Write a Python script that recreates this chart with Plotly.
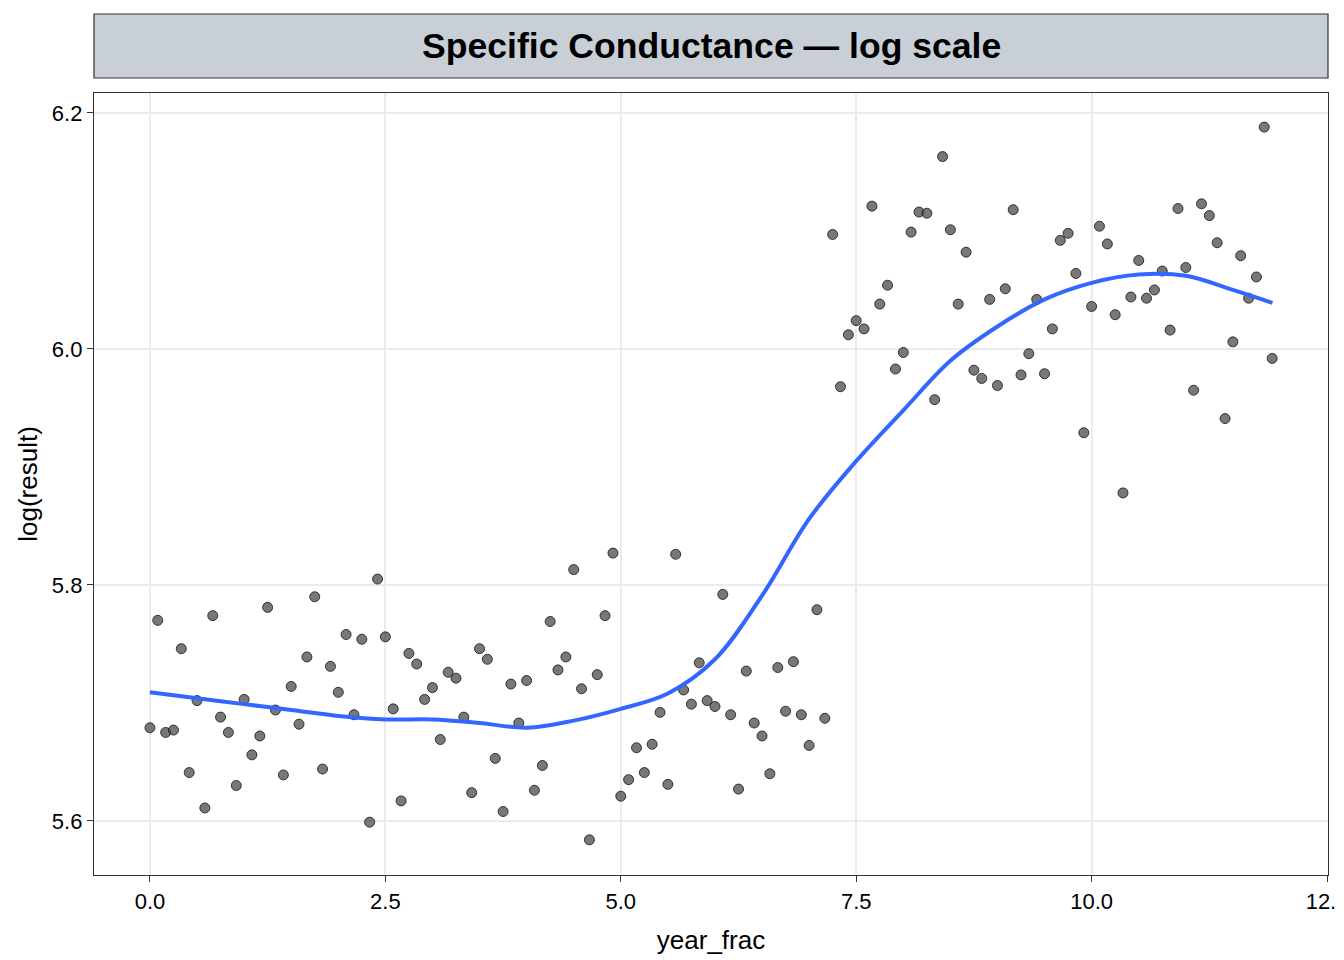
import plotly.graph_objects as go

# monthly samples, in fractional years since start
year_frac = [
    0.000, 0.083, 0.167, 0.250, 0.333, 0.417, 0.500, 0.583, 0.667, 0.750, 0.833, 0.917,
    1.000, 1.083, 1.167, 1.250, 1.333, 1.417, 1.500, 1.583, 1.667, 1.750, 1.833, 1.917,
    2.000, 2.083, 2.167, 2.250, 2.333, 2.417, 2.500, 2.583, 2.667, 2.750, 2.833, 2.917,
    3.000, 3.083, 3.167, 3.250, 3.333, 3.417, 3.500, 3.583, 3.667, 3.750, 3.833, 3.917,
    4.000, 4.083, 4.167, 4.250, 4.333, 4.417, 4.500, 4.583, 4.667, 4.750, 4.833, 4.917,
    5.000, 5.083, 5.167, 5.250, 5.333, 5.417, 5.500, 5.583, 5.667, 5.750, 5.833, 5.917,
    6.000, 6.083, 6.167, 6.250, 6.333, 6.417, 6.500, 6.583, 6.667, 6.750, 6.833, 6.917,
    7.000, 7.083, 7.167, 7.250, 7.333, 7.417, 7.500, 7.583, 7.667, 7.750, 7.833, 7.917,
    8.000, 8.083, 8.167, 8.250, 8.333, 8.417, 8.500, 8.583, 8.667, 8.750, 8.833, 8.917,
    9.000, 9.083, 9.167, 9.250, 9.333, 9.417, 9.500, 9.583, 9.667, 9.750, 9.833, 9.917,
    10.000, 10.083, 10.167, 10.250, 10.333, 10.417, 10.500, 10.583, 10.667, 10.750, 10.833, 10.917,
    11.000, 11.083, 11.167, 11.250, 11.333, 11.417, 11.500, 11.583, 11.667, 11.750, 11.833, 11.917,
]

log_result = [
    5.679, 5.770, 5.675, 5.677, 5.746, 5.641, 5.702, 5.611, 5.774, 5.688, 5.675, 5.630,
    5.703, 5.656, 5.672, 5.781, 5.694, 5.639, 5.714, 5.682, 5.739, 5.790, 5.644, 5.731,
    5.709, 5.758, 5.690, 5.754, 5.599, 5.805, 5.756, 5.695, 5.617, 5.742, 5.733, 5.703,
    5.713, 5.669, 5.726, 5.721, 5.688, 5.624, 5.746, 5.737, 5.653, 5.608, 5.716, 5.683,
    5.719, 5.626, 5.647, 5.769, 5.728, 5.739, 5.813, 5.712, 5.584, 5.724, 5.774, 5.827,
    5.621, 5.635, 5.662, 5.641, 5.665, 5.692, 5.631, 5.826, 5.711, 5.699, 5.734, 5.702,
    5.697, 5.792, 5.690, 5.627, 5.727, 5.683, 5.672, 5.640, 5.730, 5.693, 5.735, 5.690,
    5.664, 5.779, 5.687, 6.097, 5.968, 6.012, 6.024, 6.017, 6.121, 6.038, 6.054, 5.983,
    5.997, 6.099, 6.116, 6.115, 5.957, 6.163, 6.101, 6.038, 6.082, 5.982, 5.975, 6.042,
    5.969, 6.051, 6.118, 5.978, 5.996, 6.042, 5.979, 6.017, 6.092, 6.098, 6.064, 5.929,
    6.036, 6.104, 6.089, 6.029, 5.878, 6.044, 6.075, 6.043, 6.050, 6.066, 6.016, 6.119,
    6.069, 5.965, 6.123, 6.113, 6.090, 5.941, 6.006, 6.079, 6.043, 6.061, 6.188, 5.992,
]

# loess smooth, every half year
smooth_x = [0.0, 0.5, 1.0, 1.5, 2.0, 2.5, 3.0, 3.5, 4.0, 4.5, 5.0, 5.5, 6.0, 6.5,
            7.0, 7.5, 8.0, 8.5, 9.0, 9.5, 10.0, 10.5, 11.0, 11.5, 11.92]
smooth_y = [5.709, 5.704, 5.699, 5.694, 5.689, 5.686, 5.686, 5.683, 5.679, 5.685,
            5.695, 5.708, 5.737, 5.791, 5.856, 5.905, 5.948, 5.990, 6.019, 6.042,
            6.056, 6.063, 6.062, 6.050, 6.039]

x_ticks = [0.0, 2.5, 5.0, 7.5, 10.0, 12.5]
y_ticks = [5.6, 5.8, 6.0, 6.2]

title = "Specific Conductance \u2014 log scale"
font = "Liberation Sans, Arial, Helvetica, sans-serif"

fig = go.Figure()
fig.add_trace(go.Scatter(
    x=year_frac, y=log_result, mode="markers",
    marker=dict(size=10, color="rgba(75,75,75,0.75)",
                line=dict(color="rgba(20,20,20,0.8)", width=1)),
    showlegend=False, hoverinfo="x+y",
))
fig.add_trace(go.Scatter(
    x=smooth_x, y=smooth_y, mode="lines",
    line=dict(color="#3366FF", width=4, shape="spline", smoothing=1.0),
    showlegend=False,
))

# facet strip above the panel
fig.add_shape(type="rect", xref="paper", yref="paper",
              x0=0, x1=1, y0=1.0192, y1=1.101,
              fillcolor="#C8CFD7", line=dict(color="#333333", width=1.2))
fig.add_annotation(text="<b>%s</b>" % title, xref="paper", yref="paper",
                   x=0.5, y=1.060, xanchor="center", yanchor="middle",
                   showarrow=False, font=dict(size=35.6, color="black", family=font))

axis_common = dict(
    showgrid=True, gridcolor="#EBEBEB", gridwidth=1.8,
    zeroline=False, showline=True, linecolor="#333333", linewidth=1.3, mirror=True,
    ticks="outside", ticklen=6, tickcolor="#333333", tickwidth=1.3,
    tickfont=dict(size=22, color="black", family=font),
    ticklabeloverflow="allow",
)

fig.update_xaxes(range=[-0.594, 12.51], tickvals=x_ticks,
                 ticktext=["%.1f" % v for v in x_ticks],
                 title=dict(text="year_frac", font=dict(size=26, color="black", family=font),
                            standoff=18),
                 **axis_common)
fig.update_yaxes(range=[5.5542, 6.2169], tickvals=y_ticks,
                 ticktext=["%.1f" % v for v in y_ticks],
                 title=dict(text="log(result)", font=dict(size=26, color="black", family=font),
                            standoff=6),
                 **axis_common)

fig.update_layout(
    width=1344, height=960,
    margin=dict(l=86, r=24, t=85, b=93, autoexpand=False),
    plot_bgcolor="white", paper_bgcolor="white",
    font=dict(family=font),
)

fig.write_html("out.html")
